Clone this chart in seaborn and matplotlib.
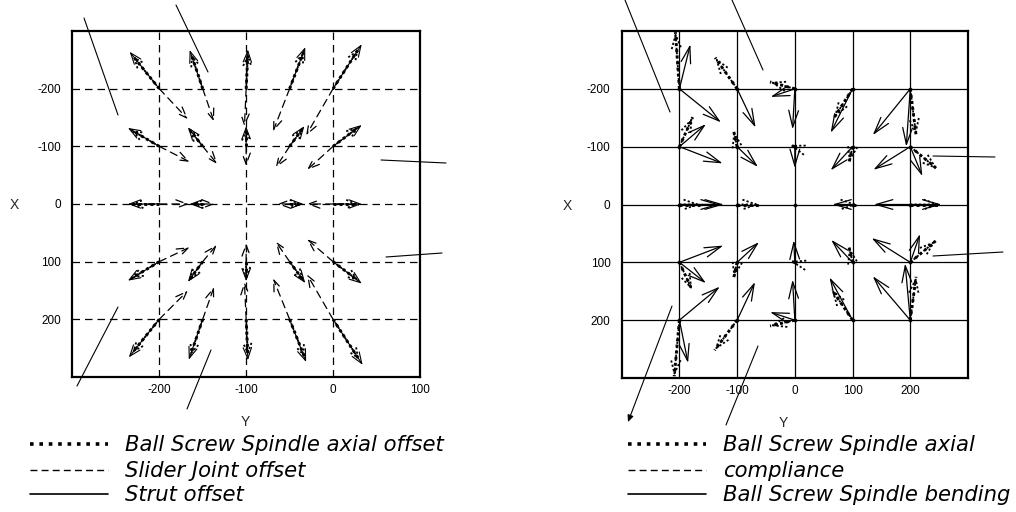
import numpy as np
import pandas as pd
import seaborn as sns
import matplotlib
matplotlib.use("Agg")
import matplotlib.pyplot as plt
from matplotlib.lines import Line2D
from matplotlib.patches import FancyArrowPatch

# ---------------- data ----------------
# Left panel: origins (Y across, X down), rows X=-200..200, columns Y=-200..0
left_y0 = [-200, -150, -100, -50, 0]
left_x0 = [-200, -100, 0, 100, 200]

strut_dy = [-34, -15, 2, 18, 33,
            -36, -17, 0, 17, 33,
            -36, -15, 0, 16, 33,
            -36, -17, 0, 18, 33,
            -35, -16, 2, 19, 34]
strut_dx = [-64, -67, -68, -72, -77,
            -32, -33, -35, -35, -37,
            0, 0, 0, 0, 0,
            33, 35, 34, 37, 38,
            66, 70, 71, 74, 79]

bss_dy = [-30, -13, 2, 16, 29,
          -32, -15, 0, 15, 29,
          -32, -13, 0, 14, 29,
          -32, -15, 0, 16, 29,
          -31, -14, 2, 17, 30]
bss_dx = [-56, -59, -60, -63, -68,
          -28, -29, -31, -31, -33,
          0, 0, 0, 0, 0,
          29, 31, 30, 33, 33,
          58, 62, 62, 65, 70]

slider_dy = [33, 13, -2, -19, -31,
             35, 17, 0, -16, -30,
             34, 14, 0, -14, -30,
             35, 16, 0, -16, -30,
             33, 13, -2, -19, -30]
slider_dx = [53, 57, 66, 74, 81,
             27, 31, 34, 37, 41,
             0, 0, 0, 0, 0,
             -25, -29, -32, -35, -39,
             -50, -56, -65, -71, -78]

# Right panel: origins, rows X=-200..200, columns Y=-200..200
right_y0 = [-200, -100, 0, 100, 200]
right_x0 = [-200, -100, 0, 100, 200]

axial_dy = [-7, -38, -43, -32, 10,
            23, -6, -9, -6, 47,
            36, 38, 0, 8, 52,
            22, -6, -8, -6, 44,
            -9, -39, -43, -36, 10]
axial_dx = [-98, -54, -12, 50, 80,
            -51, -27, -3, 27, 39,
            0, 0, 0, 0, 0,
            48, 27, -2, -26, -37,
            97, 52, 10, -53, -75]

bendA_dy = [19, 32, -42, -38, -65,
            46, 36, 0, -38, -64,
            70, 0, 0, -35, -63,
            76, 38, -2, -37, -67,
            70, 31, -43, -40, -65]
bendA_dx = [-77, 67, 14, 76, 80,
            -39, 35, 37, 41, 40,
            0, 0, 0, 0, 0,
            -29, -35, -38, -39, -42,
            -58, -66, -14, -74, -76]

nan = np.nan
bendB_dy = [72, nan, -4, nan, -7,
            75, nan, nan, nan, 21,
            77, nan, nan, nan, 54,
            46, nan, nan, nan, 17,
            15, nan, -4, nan, -9]
bendB_dx = [58, nan, 70, nan, 100,
            29, nan, nan, nan, 51,
            0, nan, nan, nan, 0,
            36, nan, nan, nan, -49,
            74, nan, -70, nan, -98]

left_xticks = [-200, -100, 0, 100]
left_yticks = [-200, -100, 0, 100, 200]
right_ticks = [-200, -100, 0, 100, 200]

left_labels = ["Ball Screw Spindle axial offset", "Slider Joint offset", "Strut offset"]
right_labels = ["Ball Screw Spindle axial", "compliance", "Ball Screw Spindle bending"]

# ---------------- styling ----------------
sns.set_style("white")
plt.rcParams['font.family'] = ['Liberation Sans', 'DejaVu Sans']

W, H = 1016, 512
fig = plt.figure(figsize=(W / 100, H / 100), dpi=100)

def origins(ys, xs):
    oy, ox = np.meshgrid(ys, xs)
    return oy.ravel(), ox.ravel()

DOT = (0, (1.0, 1.1))

def draw_series(ax, oy, ox, dy, dx, ls, lw, head, dotted=False):
    df = pd.DataFrame({"y0": oy, "x0": ox, "dy": dy, "dx": dx}).dropna()
    for _, r in df.iterrows():
        if r.dy == 0 and r.dx == 0:
            continue
        tip = (r.y0 + r.dy, r.x0 + r.dx)
        if dotted:
            ax.plot([r.y0, tip[0]], [r.x0, tip[1]], color="black", lw=2.1,
                    ls=DOT, dash_capstyle="butt", zorder=4)
            ax.annotate("", xy=tip, xytext=(r.y0, r.x0),
                        arrowprops=dict(arrowstyle=head, color="black", lw=1.3,
                                        ls=(0, (1.2, 1.2)), capstyle="butt",
                                        shrinkA=0, shrinkB=0),
                        annotation_clip=False)
        else:
            ax.annotate("", xy=tip, xytext=(r.y0, r.x0),
                        arrowprops=dict(arrowstyle=head, color="black", lw=lw, ls=ls,
                                        shrinkA=0, shrinkB=0),
                        annotation_clip=False)

def style_axes(ax, xlim, xticks, yticks, grid_ls):
    ax.set_xlim(*xlim)
    ax.set_ylim(300, -300)
    ax.set_xticks(xticks)
    ax.set_yticks(yticks)
    ax.set_xticklabels([str(t) for t in xticks])
    ax.set_yticklabels([str(t) for t in yticks])
    ax.tick_params(axis="both", length=0, labelsize=8.5, colors="black")
    ax.tick_params(axis="x", pad=5)
    ax.tick_params(axis="y", pad=8)
    for t in xticks:
        ax.axvline(t, color="black", lw=0.9, ls=grid_ls, zorder=0)
    for t in yticks:
        ax.axhline(t, color="black", lw=0.9, ls=grid_ls, zorder=0)
    for s in ax.spines.values():
        s.set_visible(True)
        s.set_color("black")
        s.set_linewidth(1.6)
    ax.set_facecolor("white")

# ---------------- left panel ----------------
ax1 = fig.add_axes([72.3 / W, 1 - 377 / H, 347.7 / W, 346 / H])
style_axes(ax1, (-300, 100), left_xticks, left_yticks, (0, (6, 4)))
oy, ox = origins(left_y0, left_x0)
head_l = "->,head_length=0.8,head_width=0.3"
draw_series(ax1, oy, ox, slider_dy, slider_dx, (0, (6, 4)), 0.9, head_l)
draw_series(ax1, oy, ox, strut_dy, strut_dx, "-", 0.8, head_l)
draw_series(ax1, oy, ox, bss_dy, bss_dx, DOT, 1.9, "->,head_length=0.7,head_width=0.3",
            dotted=True)
ax1.set_xlabel("Y", fontsize=10)
ax1.set_ylabel("X", fontsize=10, rotation=0)
ax1.xaxis.set_label_coords(0.497, -0.11)
ax1.yaxis.set_label_coords(-0.168, 0.477)

# ---------------- right panel ----------------
ax2 = fig.add_axes([621.7 / W, 1 - 378 / H, 346.3 / W, 347 / H])
style_axes(ax2, (-300, 300), right_ticks, right_ticks, "-")
oy2, ox2 = origins(right_y0, right_x0)
sns.scatterplot(x=oy2, y=ox2, ax=ax2, s=6, color="black", edgecolor="black",
                legend=False, zorder=3)
ax2.set_xlim(-300, 300)
ax2.set_ylim(300, -300)
head_r = "->,head_length=1.2,head_width=0.35"
draw_series(ax2, oy2, ox2, bendA_dy, bendA_dx, "-", 0.9, head_r)
draw_series(ax2, oy2, ox2, bendB_dy, bendB_dx, "-", 0.9, head_r)
draw_series(ax2, oy2, ox2, axial_dy, axial_dx, DOT, 2.0,
            "->,head_length=1.0,head_width=0.35", dotted=True)
ax2.set_xlabel("Y", fontsize=10)
ax2.set_ylabel("X", fontsize=10, rotation=0)
ax2.xaxis.set_label_coords(0.466, -0.11)
ax2.yaxis.set_label_coords(-0.158, 0.476)

# ---------------- leader lines ----------------
def fpx(x, y):
    return x / W, 1 - y / H

leaders = [((84, 18), (118, 115)), ((176, 5), (208, 72)), ((381, 160), (446, 163)),
           ((386, 257), (442, 253)), ((77, 386), (118, 307)), ((187, 409), (211, 350)),
           ((625, 0), (670, 112)), ((732, 0), (763, 70)), ((933, 156), (995, 157)),
           ((933, 256), (1003, 252)), ((758, 346), (726, 425))]
for (a, b) in leaders:
    (x0, y0), (x1, y1) = fpx(*a), fpx(*b)
    fig.add_artist(Line2D([x0, x1], [y0, y1], transform=fig.transFigure,
                          color="black", lw=0.8))
fig.add_artist(FancyArrowPatch(fpx(672, 306), fpx(628, 422), transform=fig.transFigure,
                               arrowstyle="-|>,head_length=4,head_width=1.8",
                               color="black", lw=0.8, shrinkA=0, shrinkB=0))

# ---------------- legends ----------------
styles = [dict(ls=(0, (1, 1.6)), lw=2.6), dict(ls=(0, (5, 3)), lw=1.0), dict(ls="-", lw=1.2)]
rows = [444, 470, 494]

def legend(x0, x1, xt, labels):
    for st, yy, lab in zip(styles, rows, labels):
        a = fpx(x0, yy)
        b = fpx(x1, yy)
        fig.add_artist(Line2D([a[0], b[0]], [a[1], b[1]], transform=fig.transFigure,
                              color="black", dash_capstyle="butt", **st))
        fig.text(xt / W, 1 - (yy + 1) / H, lab, fontsize=15.2, style="italic",
                 family="DejaVu Sans", va="center", ha="left", color="black")

legend(30, 108, 125, left_labels)
legend(628, 706, 723, right_labels)

fig.savefig("out.png", dpi=100, facecolor="white")
